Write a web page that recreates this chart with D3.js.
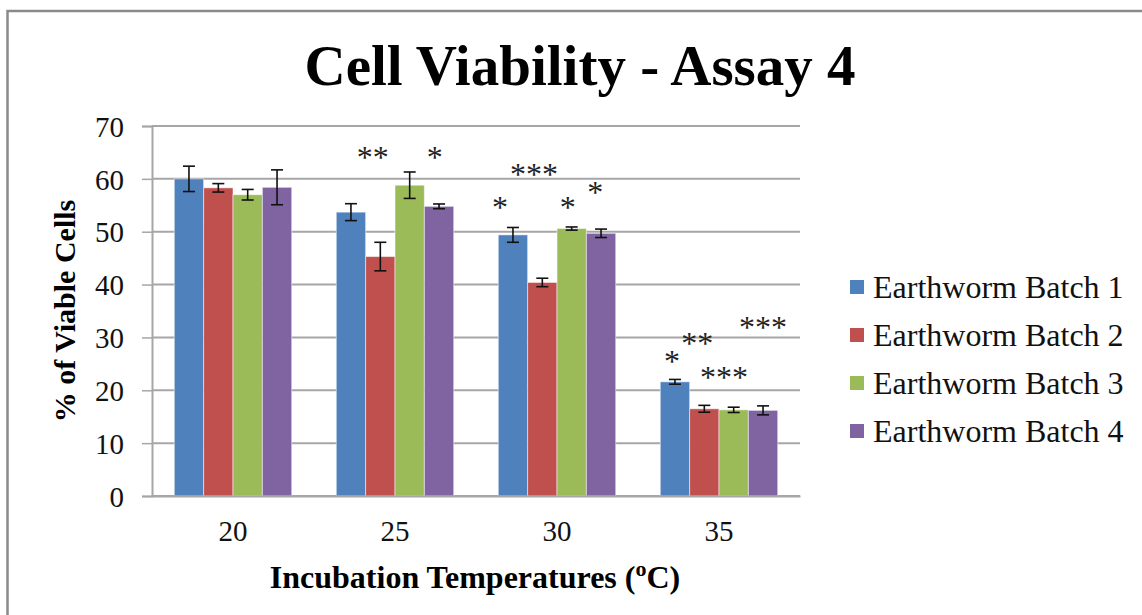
<!DOCTYPE html>
<html>
<head>
<meta charset="utf-8">
<script src="https://cdn.jsdelivr.net/npm/d3@7"></script>
<style>
  body { margin: 0; background: #fff; }
  text { font-family: "Liberation Serif", "Times New Roman", serif; }
</style>
</head>
<body>
<script>
// chart data
const categories = ["20", "25", "30", "35"];
const seriesNames = ["Earthworm Batch 1", "Earthworm Batch 2", "Earthworm Batch 3", "Earthworm Batch 4"];
const batch1 = [60.0, 53.7, 49.4, 21.6];
const batch2 = [58.3, 45.3, 40.4, 16.5];
const batch3 = [57.0, 58.8, 50.6, 16.3];
const batch4 = [58.4, 54.8, 49.7, 16.2];
const err1 = [2.4, 1.6, 1.4, 0.45];
const err2 = [0.8, 2.7, 0.8, 0.65];
const err3 = [1.0, 2.5, 0.3, 0.5];
const err4 = [3.3, 0.45, 0.8, 0.85];
const yTicks = [0, 10, 20, 30, 40, 50, 60, 70];

// significance stars: category, offset in bar slots, height in % units
const starCat  = ["25", "25", "30", "30", "30", "30", "35", "35", "35", "35"];
const starPos  = [0.74, 2.85, -0.44, 0.72, 1.87, 2.8, -0.1, 0.76, 1.67, 3.0];
const starY    = [64.9, 64.9, 55.4, 61.7, 55.4, 58.3, 26.35, 29.7, 23.3, 32.8];
const starText = ["**", "*", "*", "***", "*", "*", "*", "**", "***", "***"];

const colors = ["#4F81BD", "#C0504D", "#9BBB59", "#8064A2"];

let width = 1142, height = 615;
let margin = {top: 126, bottom: 119, left: 152, right: 342};

let svg = d3.select("body")
  .append("svg")
  .attr("width", width)
  .attr("height", height);

// outer frame
svg.append("rect")
  .attr("x", 7.5).attr("y", 11)
  .attr("width", 1200).attr("height", 700)
  .attr("fill", "none")
  .attr("stroke", "#8a8a8a")
  .attr("stroke-width", 2.5);

const values = [batch1, batch2, batch3, batch4];
const errors = [err1, err2, err3, err4];

const xScale = d3.scaleBand()
  .domain(categories)
  .range([margin.left, width - margin.right])
  .paddingInner(0.275)
  .paddingOuter(0.1375);

const subScale = d3.scaleBand()
  .domain(seriesNames)
  .range([0, xScale.bandwidth()]);

const yScale = d3.scaleLinear()
  .domain([0, 70])
  .range([height - margin.bottom, margin.top]);

// gridlines
svg.append("g")
  .selectAll("line")
  .data(yTicks)
  .enter()
  .append("line")
  .attr("x1", margin.left)
  .attr("x2", width - margin.right)
  .attr("y1", d => yScale(d))
  .attr("y2", d => yScale(d))
  .attr("stroke", "#a6a6a6")
  .attr("stroke-width", 2);

// bars
const rows = [];
categories.forEach((c, i) => {
  seriesNames.forEach((s, j) => {
    rows.push({cat: c, series: s, idx: j, value: values[j][i], err: errors[j][i]});
  });
});

svg.append("g")
  .selectAll("rect")
  .data(rows)
  .enter()
  .append("rect")
  .attr("x", d => xScale(d.cat) + subScale(d.series))
  .attr("y", d => yScale(d.value))
  .attr("width", subScale.bandwidth())
  .attr("height", d => yScale(0) - yScale(d.value))
  .attr("fill", d => colors[d.idx])
  .attr("stroke", "#ffffff")
  .attr("stroke-opacity", 0.5)
  .attr("stroke-width", 1);

// error bars
const eb = svg.append("g")
  .attr("stroke", "#111")
  .attr("stroke-width", 1.6);

rows.forEach(d => {
  const cx = xScale(d.cat) + subScale(d.series) + subScale.bandwidth() / 2;
  const top = yScale(d.value + d.err), bot = yScale(d.value - d.err);
  eb.append("line").attr("x1", cx).attr("x2", cx).attr("y1", top).attr("y2", bot);
  eb.append("line").attr("x1", cx - 6).attr("x2", cx + 6).attr("y1", top).attr("y2", top);
  eb.append("line").attr("x1", cx - 6).attr("x2", cx + 6).attr("y1", bot).attr("y2", bot);
});

// y axis
const yAxis = svg.append("g")
  .attr("transform", `translate(${margin.left},0)`)
  .call(d3.axisLeft(yScale).tickValues(yTicks).tickSize(10).tickPadding(18));
yAxis.select(".domain").attr("stroke", "#a6a6a6").attr("stroke-width", 2);
yAxis.selectAll(".tick line").attr("stroke", "#a6a6a6").attr("stroke-width", 1.5);
yAxis.selectAll(".tick text")
  .attr("font-family", "Liberation Serif")
  .attr("font-size", 29)
  .attr("fill", "#111")
  .attr("dy", "0.35em");

// x axis
const xAxis = svg.append("g")
  .attr("transform", `translate(0,${yScale(0)})`)
  .call(d3.axisBottom(xScale).tickSize(0).tickPadding(24));
xAxis.select(".domain").attr("stroke", "#a6a6a6").attr("stroke-width", 2);
xAxis.selectAll(".tick text")
  .attr("font-family", "Liberation Serif")
  .attr("font-size", 29)
  .attr("fill", "#111");

// stars
svg.append("g")
  .selectAll("text")
  .data(starText)
  .enter()
  .append("text")
  .attr("x", (d, i) => xScale(starCat[i]) + subScale.step() * (starPos[i] + 0.5))
  .attr("y", (d, i) => yScale(starY[i]) + 15)
  .attr("text-anchor", "middle")
  .attr("font-size", 32)
  .attr("fill", "#222")
  .text(d => d);

// title
svg.append("text")
  .attr("x", 580)
  .attr("y", 85)
  .attr("text-anchor", "middle")
  .attr("font-size", 57)
  .attr("font-weight", "bold")
  .text("Cell Viability - Assay 4");

// axis labels
const xt = svg.append("text")
  .attr("x", 475)
  .attr("y", 588)
  .attr("text-anchor", "middle")
  .attr("font-size", 32)
  .attr("font-weight", "bold");
xt.append("tspan").text("Incubation Temperatures (");
xt.append("tspan").attr("font-size", 22).attr("dy", -12).text("o");
xt.append("tspan").attr("dy", 12).text("C)");

svg.append("text")
  .attr("transform", `translate(75,311)rotate(-90)`)
  .attr("text-anchor", "middle")
  .attr("font-size", 30)
  .attr("font-weight", "bold")
  .text("% of Viable Cells");

// legend
const legend = svg.append("g")
  .selectAll("g")
  .data(seriesNames)
  .enter()
  .append("g")
  .attr("transform", (d, i) => `translate(850,${287 + i * 48})`);

legend.append("rect")
  .attr("x", 0).attr("y", -7)
  .attr("width", 14).attr("height", 14)
  .attr("fill", (d, i) => colors[i]);

legend.append("text")
  .attr("x", 23)
  .attr("y", 11)
  .attr("font-size", 32)
  .attr("fill", "#111")
  .text(d => d);
</script>
</body>
</html>
